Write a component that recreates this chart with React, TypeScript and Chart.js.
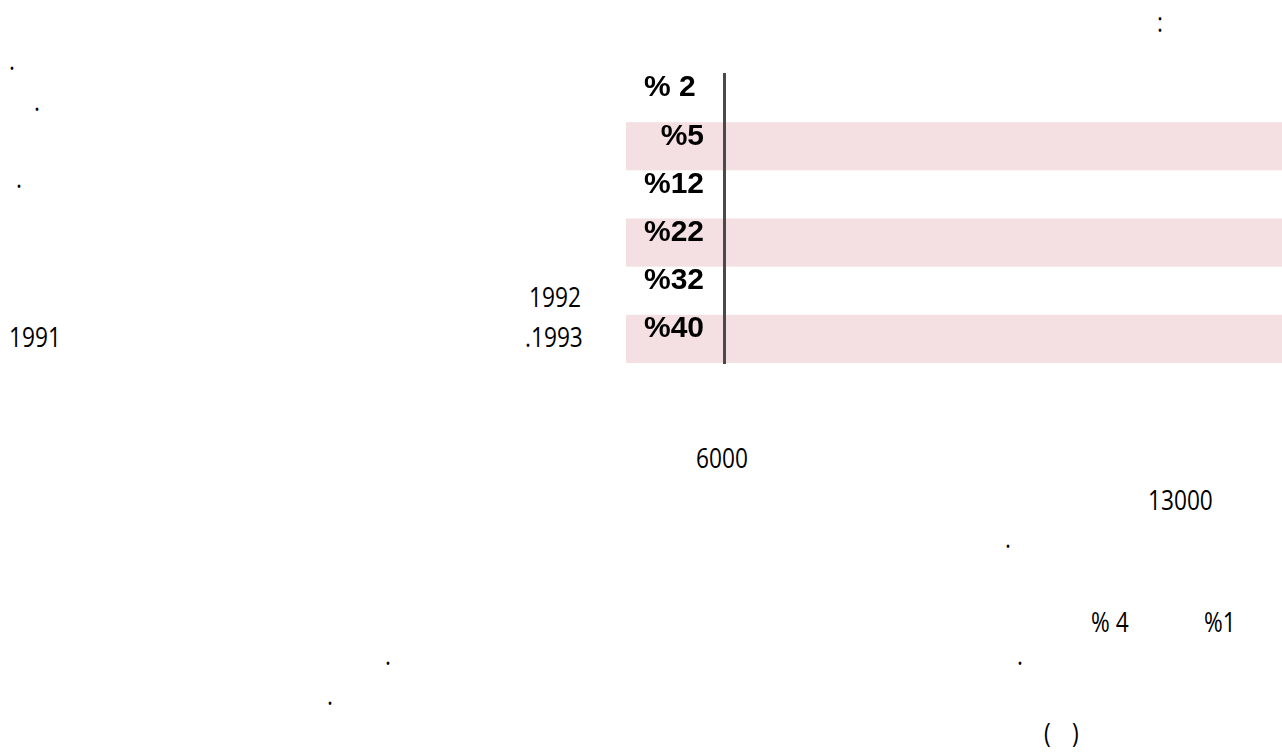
import React, { useEffect, useRef } from "react";
import { Chart, registerables } from "chart.js";

Chart.register(...registerables);

// Table rows (percent labels shown on the category axis)
const rowLabels = ["% 2 ", "%5", "%12", "%22", "%32", "%40"];
// Which rows carry the pink band (1 = shaded)
const rowShade = [0, 1, 0, 1, 0, 1];

// Loose text fragments of the surrounding page
const pageTexts: { t: string; x: number; y: number }[] = [
  { t: ":", x: 1157, y: 7 },
  { t: ".", x: 9, y: 45 },
  { t: ".", x: 34, y: 86 },
  { t: ".", x: 16, y: 163 },
  { t: "1992", x: 529, y: 282 },
  { t: ".1993", x: 525, y: 322 },
  { t: "1991", x: 9, y: 322 },
  { t: "6000", x: 696, y: 443 },
  { t: "13000", x: 1148, y: 485 },
  { t: ".", x: 1005, y: 523 },
  { t: "% 4", x: 1091, y: 607 },
  { t: "%1", x: 1204, y: 607 },
  { t: ".", x: 1017, y: 640 },
  { t: ".", x: 385, y: 640 },
  { t: ".", x: 327, y: 680 },
  { t: "(", x: 1044, y: 718 },
  { t: ")", x: 1072, y: 718 },
];

const stripePlugin = {
  id: "stripes",
  beforeDraw(chart: any) {
    const { ctx, chartArea, scales } = chart;
    const y = scales.y;
    const n = rowLabels.length;
    const h = (chartArea.bottom - chartArea.top) / n;
    ctx.save();
    ctx.fillStyle = "#f4e0e3";
    rowShade.forEach((s, i) => {
      if (!s) return;
      const c = y.getPixelForValue(i);
      ctx.fillRect(6, c - h / 2, chart.width - 6, h);
    });
    ctx.restore();
  },
};

export default function App() {
  const ref = useRef<HTMLCanvasElement | null>(null);
  useEffect(() => {
    if (!ref.current) return;
    const chart = new Chart(ref.current, {
      type: "bar",
      data: { labels: rowLabels, datasets: [] },
      options: {
        animation: false,
        responsive: false,
        indexAxis: "y",
        layout: { padding: { top: 14, bottom: 17, left: 0, right: 0 } },
        plugins: { legend: { display: false }, tooltip: { enabled: false } },
        scales: {
          x: { type: "linear", display: false, min: 0, max: 1 },
          y: {
            type: "category",
            offset: true,
            grid: { display: false },
            border: { display: true, color: "#4a4a4a", width: 3 },
            ticks: {
              color: "#000",
              padding: 12,
              labelOffset: -10,
              font: { family: "'Liberation Sans', Arial, sans-serif", size: 30, weight: "bold" },
            },
            afterFit: (s: any) => {
              s.width = 104;
              s.paddingTop = 0;
              s.paddingBottom = 0;
            },
          },
        },
      },
      plugins: [stripePlugin],
    } as any);
    return () => chart.destroy();
  }, []);

  return (
    <div>
      {pageTexts.map((p, i) => (
        <span
          key={i}
          style={{
            position: "absolute",
            left: p.x,
            top: p.y,
            fontFamily: "'Open Sans', sans-serif",
            fontSize: 28,
            lineHeight: "28px",
            whiteSpace: "pre",
            color: "#000",
            transform: "scaleX(0.81)",
            transformOrigin: "0 0",
          }}
        >
          {p.t}
        </span>
      ))}
      <div style={{ position: "absolute", left: 620, top: 60, width: 662, height: 320 }}>
        <canvas ref={ref} width={662} height={320} style={{ width: 662, height: 320 }} />
      </div>
    </div>
  );
}
